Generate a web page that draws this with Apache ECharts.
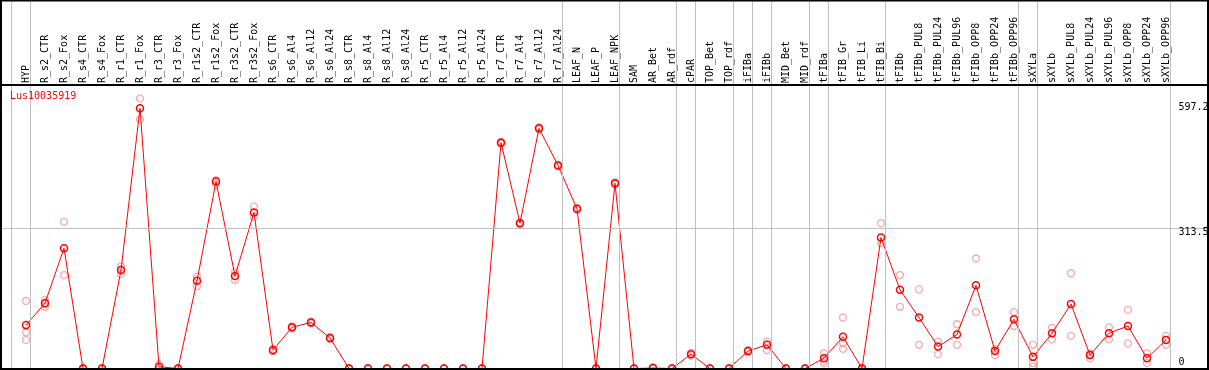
<!DOCTYPE html>
<html><head><meta charset="utf-8">
<script src="https://cdn.jsdelivr.net/npm/echarts@6/dist/echarts.min.js"></script>
<style>html,body{margin:0;padding:0;background:#fff}#c{width:1209px;height:370px}</style>
</head><body><div id="c"></div>
<script>
const categories = ['HYP','R_s2_CTR','R_s2_Fox','R_s4_CTR','R_s4_Fox','R_r1_CTR','R_r1_Fox','R_r3_CTR','R_r3_Fox','R_r1s2_CTR','R_r1s2_Fox','R_r3s2_CTR','R_r3s2_Fox','R_s6_CTR','R_s6_Al4','R_s6_Al12','R_s6_Al24','R_s8_CTR','R_s8_Al4','R_s8_Al12','R_s8_Al24','R_r5_CTR','R_r5_Al4','R_r5_Al12','R_r5_Al24','R_r7_CTR','R_r7_Al4','R_r7_Al12','R_r7_Al24','LEAF_N','LEAF_P','LEAF_NPK','SAM','AR_Bet','AR_rdf','cPAR','TOP_Bet','TOP_rdf','iFIBa','iFIBb','MID_Bet','MID_rdf','tFIBa','tFIB_Gr','tFIB_Li','tFIB_Bi','tFIBb','tFIBb_PUL8','tFIBb_PUL24','tFIBb_PUL96','tFIBb_OPP8','tFIBb_OPP24','tFIBb_OPP96','sXYLa','sXYLb','sXYLb_PUL8','sXYLb_PUL24','sXYLb_PUL96','sXYLb_OPP8','sXYLb_OPP24','sXYLb_OPP96'];
const meanValues = [97,146,269,0,0,220,582,4,0,196,418,207,349,41,92,103,68,0,0,0,0,0,0,0,0,505,325,537,454,357,0,414,0,1,0,32,0,0,39,53,0,0,23,71,0,293,176,114,49,76,186,39,110,26,79,144,30,79,95,23,64];
const repHigh  = [151,153,328,0,0,228,604,9,0,205,421,216,362,43,94,105,70,0,0,0,0,0,0,0,0,507,327,539,456,359,0,416,0,3,0,35,0,0,41,60,0,0,34,114,0,325,209,177,60,99,246,44,126,53,91,213,34,92,131,34,73];
const repLow   = [81,138,209,0,0,211,557,1,0,184,412,198,339,39,90,101,66,0,0,0,0,0,0,0,0,503,323,535,452,355,0,412,0,0,0,29,0,0,37,41,0,0,12,44,0,280,138,53,32,53,126,30,95,12,65,73,23,65,56,12,53];
const repExtra = [64,146,null,null,null,null,null,null,null,null,null,null,null,null,null,null,null,null,null,null,null,null,null,null,null,null,null,null,null,null,null,null,null,null,null,null,null,null,null,null,null,null,17,57,null,null,null,null,null,null,null,null,null,4,null,null,null,null,null,null,null];
const separatorAfter = [-1,0,28,31,34,35,37,38,39,41,42,45,52,53,60];
const gridLineValues = [313.5];
const yTickLabels = ['597.2','313.5','0'];
const geneName = 'Lus10035919';

const FONT = 'DejaVu Sans Mono';
const n = categories.length;
const step = 19, plotLeft = 16.5, plotWidth = step * n;
const plotTop = 85, plotBottom = 368.5, pxPerUnit = 0.4472;
const yMax0 = (plotBottom - plotTop) / pxPerUnit;
const yMax1 = plotBottom / pxPerUnit;
const frameLeft = 0.5, frameRight = 1207.5;
const x1Min = -0.5 - (plotLeft - frameLeft) / step;
const x1Max = n - 0.5 + (frameRight - (plotLeft + plotWidth)) / step;
const sepOffset = 0.226;
const labelOffsets = [[0, 5.5], [0, 4], [0, -6.5]];

const repData = [];
[repHigh, repLow, repExtra].forEach(arr => arr.forEach((v, i) => { if (v !== null) repData.push([i, v]); }));

const chart = echarts.init(document.getElementById('c'), null, {renderer: 'canvas'});
chart.setOption({
  animation: false,
  backgroundColor: '#fff',
  grid: [
    {left: plotLeft, top: plotTop, width: plotWidth, height: plotBottom - plotTop},
    {left: frameLeft, top: 0, width: frameRight - frameLeft, height: plotBottom}
  ],
  xAxis: [
    {type: 'category', gridIndex: 0, data: categories, position: 'top', boundaryGap: true,
     axisLine: {show: false}, axisTick: {show: false}, splitLine: {show: false},
     axisLabel: {rotate: 90, margin: 2, interval: 0, fontFamily: FONT, fontSize: 10, color: '#000', padding: [0, 0, 2, 0]}},
    {type: 'value', gridIndex: 1, min: x1Min, max: x1Max, show: false}
  ],
  yAxis: [
    {type: 'value', gridIndex: 0, min: 0, max: yMax0, show: false},
    {type: 'value', gridIndex: 1, min: 0, max: yMax1, show: false}
  ],
  graphic: [
    {type: 'rect', shape: {x: 1, y: 0.5, width: 1207, height: 368.5}, style: {fill: 'none', stroke: '#000', lineWidth: 2}, z: 100, silent: true},
    {type: 'line', shape: {x1: 0, y1: 85, x2: 1208, y2: 85}, style: {stroke: '#000', lineWidth: 2}, z: 100, silent: true},
    {type: 'text', left: 10, top: 91, style: {text: geneName, fill: '#ff0000', font: '10px "DejaVu Sans Mono"'}, z: 100, silent: true}
  ],
  series: [
    {type: 'line', xAxisIndex: 1, yAxisIndex: 1, data: [], silent: true, symbol: 'none',
     markLine: {silent: true, symbol: ['none', 'none'], animation: false, label: {show: false},
       lineStyle: {color: '#c0c0c0', width: 1, type: 'solid'},
       data: separatorAfter.map(k => ({xAxis: k + sepOffset})).concat(gridLineValues.map(v => ({yAxis: v})))}},
    {type: 'scatter', xAxisIndex: 0, yAxisIndex: 0, data: repData, symbol: 'circle', symbolSize: 7, clip: false,
     itemStyle: {color: 'rgba(0,0,0,0)', borderColor: '#ee9999', borderWidth: 1.3}, z: 2, silent: true},
    {type: 'line', xAxisIndex: 0, yAxisIndex: 0, data: meanValues, symbol: 'circle', symbolSize: 7, showAllSymbol: true, clip: false,
     lineStyle: {color: '#ff0000', width: 1}, itemStyle: {color: 'rgba(0,0,0,0)', borderColor: '#ff0000', borderWidth: 1.5}, z: 3, silent: true,
     markLine: {silent: true, symbol: ['none', 'none'], animation: false,
       lineStyle: {color: 'rgba(0,0,0,0)', width: 1, type: 'solid'},
       label: {show: true, position: 'end', distance: 3, color: '#000', fontFamily: FONT, fontSize: 10},
       data: yTickLabels.map((t, i) => ({yAxis: parseFloat(t), label: {show: true, position: 'end', color: '#000', formatter: t, offset: labelOffsets[i]}}))}}
  ]
});
</script></body></html>
